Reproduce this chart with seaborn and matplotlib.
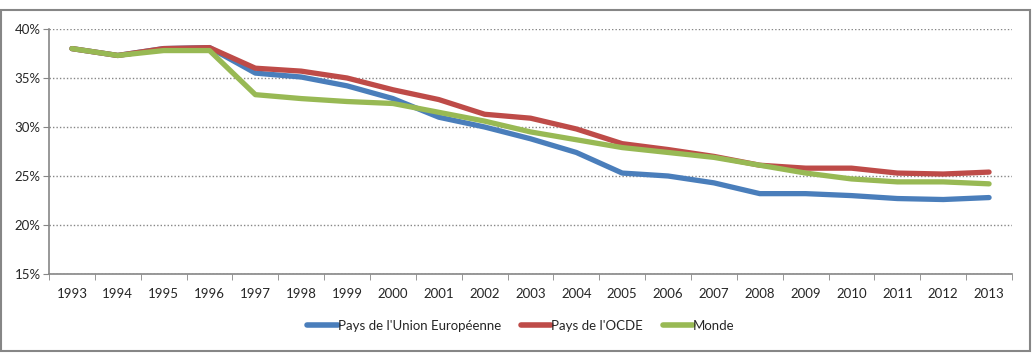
import numpy as np
import pandas as pd
import seaborn as sns
import matplotlib
matplotlib.use('Agg')
import matplotlib.pyplot as plt
from matplotlib.patches import Rectangle
from matplotlib.ticker import FuncFormatter, FixedLocator

years = list(range(1993, 2014))

ue = [38.0, 37.3, 38.0, 38.1, 35.5, 35.1, 34.2, 32.9, 31.0, 30.0, 28.8,
      27.4, 25.3, 25.0, 24.3, 23.2, 23.2, 23.0, 22.7, 22.6, 22.8]
ocde = [38.0, 37.3, 38.0, 38.1, 36.0, 35.7, 35.0, 33.8, 32.8, 31.3, 30.9,
        29.8, 28.3, 27.7, 27.0, 26.1, 25.8, 25.8, 25.3, 25.2, 25.4]
monde = [38.0, 37.3, 37.8, 37.8, 33.3, 32.9, 32.6, 32.4, 31.5, 30.6, 29.5,
         28.7, 27.9, 27.4, 26.9, 26.1, 25.3, 24.7, 24.4, 24.4, 24.2]

series_names = ["Pays de l'Union Européenne", "Pays de l'OCDE", "Monde"]
series_colors = ["#4A7EBB", "#BE4B48", "#98B954"]

df = pd.DataFrame({
    'pos': list(range(len(years))) * 3,
    'valeur': ue + ocde + monde,
    'serie': [series_names[0]] * len(years) + [series_names[1]] * len(years)
             + [series_names[2]] * len(years),
})

sns.set_style('white')
plt.rcParams['font.family'] = ['Lato', 'DejaVu Sans']

fig = plt.figure(figsize=(10.34, 3.59), dpi=100)
ax = fig.add_axes([49 / 1034, 1 - 274 / 359, (1012 - 49) / 1034, (274 - 29) / 359])

sns.lineplot(data=df, x='pos', y='valeur', hue='serie', hue_order=series_names,
             palette=series_colors, linewidth=3.8, ax=ax, legend=True)

ax.set_xlim(-0.5, len(years) - 0.5)
ax.set_ylim(15, 40)
ax.set_yticks([15, 20, 25, 30, 35, 40])
ax.yaxis.set_major_formatter(FuncFormatter(lambda v, p: '%d%%' % v))
ax.set_xticks(range(len(years)))
ax.set_xticklabels([str(y) for y in years])
ax.xaxis.set_minor_locator(FixedLocator(np.arange(-0.5, len(years), 1)))
ax.tick_params(axis='x', which='major', length=0, pad=10, labelsize=9.5)
ax.tick_params(axis='x', which='minor', length=4, color='#868686', direction='out', bottom=True)
ax.tick_params(axis='y', length=4, color='#868686', labelsize=9.5, left=True, direction='out', pad=2)
ax.set_xlabel('')
ax.set_ylabel('')

ax.grid(axis='y', color='#868686', linestyle=(0, (1, 1.5)), linewidth=1)
ax.set_axisbelow(True)
for s in ['top', 'right']:
    ax.spines[s].set_visible(False)
for s in ['left', 'bottom']:
    ax.spines[s].set_color('#868686')
    ax.spines[s].set_linewidth(1.2)

leg = ax.legend(loc='center', bbox_to_anchor=(0.49, -0.212), ncol=3, frameon=False,
                fontsize=9.5, handlelength=2.3, handletextpad=0.0, columnspacing=1.5)
for h in leg.get_lines():
    h.set_linewidth(4)

fig.patches.append(Rectangle((1 / 1034, 1 - 351 / 359), 1029 / 1034, 341 / 359,
                             transform=fig.transFigure, fill=False,
                             edgecolor='#868686', linewidth=1.5))

fig.savefig('out.png', dpi=100)
